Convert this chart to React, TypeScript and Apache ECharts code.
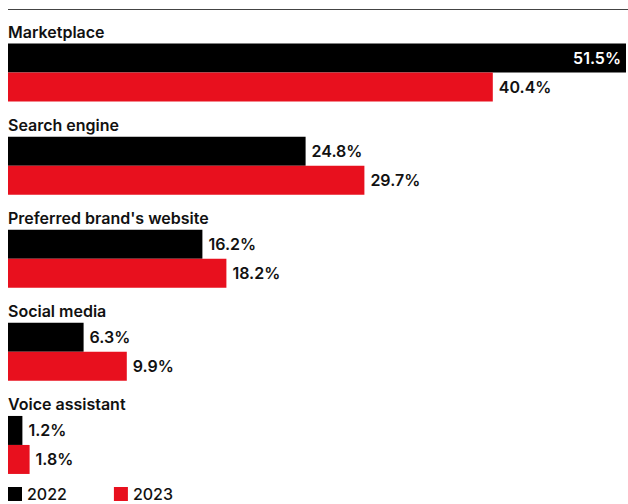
import React, { useEffect, useRef } from "react";
import * as echarts from "echarts";

const categories = [
  "Marketplace",
  "Search engine",
  "Preferred brand's website",
  "Social media",
  "Voice assistant",
];
const values2022 = [51.5, 24.8, 16.2, 6.3, 1.2];
const values2023 = [40.4, 29.7, 18.2, 9.9, 1.8];
const seriesNames = ["2022", "2023"];

const FONT = "Inter, 'Noto Sans', sans-serif";

export default function App() {
  const ref = useRef<HTMLDivElement>(null);
  useEffect(() => {
    if (!ref.current) return;
    const chart = echarts.init(ref.current, undefined, { renderer: "svg" });
    const labelBase = {
      show: true,
      position: "right" as const,
      distance: 6,
      formatter: "{c}%",
      fontFamily: FONT,
      fontWeight: 600,
      fontSize: 16,
      color: "#111",
    };
    chart.setOption({
      animation: false,
      backgroundColor: "#fff",
      textStyle: { fontFamily: FONT },
      grid: { left: 8, right: 2, top: 26, height: 465.5, containLabel: false },
      xAxis: {
        type: "value",
        min: 0,
        max: 51.5,
        show: false,
      },
      yAxis: {
        type: "category",
        inverse: true,
        data: categories,
        z: 10,
        axisLine: { show: false },
        axisTick: { show: false },
        splitLine: { show: false },
        axisLabel: {
          inside: true,
          interval: 0,
          showMinLabel: true,
          showMaxLabel: true,
          hideOverlap: false,
          margin: 0,
          align: "left",
          verticalAlign: "middle",
          formatter: (v: string) => `{n|${v}}\n{s|}`,
          rich: {
            n: {
              fontFamily: FONT,
              fontWeight: 600,
              fontSize: 16,
              lineHeight: 18,
              color: "#111",
            },
            s: { height: 82, lineHeight: 82 },
          },
        },
      },
      legend: {
        left: 3,
        top: 481,
        icon: "rect",
        itemWidth: 14,
        itemHeight: 14,
        itemGap: 47,
        data: seriesNames,
        textStyle: {
          fontFamily: FONT,
          fontSize: 16,
          lineHeight: 16,
          fontWeight: 500,
          color: "#111",
        },
      },
      graphic: [
        {
          type: "line",
          shape: { x1: 8, y1: 9.5, x2: 628, y2: 9.5 },
          style: { stroke: "#444", lineWidth: 1.2 },
        },
      ],
      series: [
        {
          name: seriesNames[0],
          type: "bar",
          barWidth: 29,
          barGap: "0%",
          itemStyle: { color: "#000" },
          label: labelBase,
          data: values2022.map((v, i) =>
            i === 0
              ? { value: v, label: { position: "insideRight", color: "#fff", distance: 5 } }
              : v
          ),
        },
        {
          name: seriesNames[1],
          type: "bar",
          barWidth: 29,
          barGap: "0%",
          itemStyle: { color: "#e8101e" },
          label: labelBase,
          data: values2023,
        },
      ],
    });
    return () => chart.dispose();
  }, []);
  return (
    <div
      ref={ref}
      style={{ position: "absolute", left: 0, top: 0, width: 628, height: 504 }}
    />
  );
}
